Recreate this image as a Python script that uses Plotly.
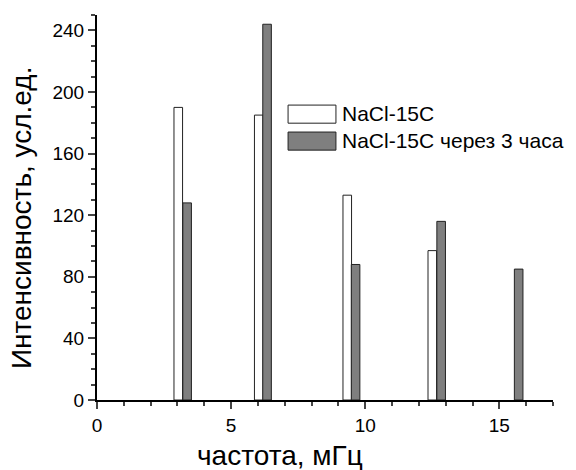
import plotly.graph_objects as go

# Data
series1_name = "NaCl-15C"
series1_x = [3.03, 6.03, 9.33, 12.5]
series1_y = [190, 185, 133, 97]
series1_color = "white"

series2_name = "NaCl-15C через 3 часа"
series2_x = [3.36, 6.34, 9.64, 12.83, 15.72]
series2_y = [128, 244, 88, 116, 85]
series2_color = "#7f7f7f"

x_title = "частота, мГц"
y_title = "Интенсивность, усл.ед."
x_ticks = [0, 5, 10, 15]
y_ticks = [0, 40, 80, 120, 160, 200, 240]

edge = "#222"
fig = go.Figure()
fig.add_trace(go.Bar(x=series1_x, y=series1_y, name=series1_name, width=0.32,
                     showlegend=False,
                     marker=dict(color=series1_color, line=dict(color=edge, width=1))))
fig.add_trace(go.Bar(x=series2_x, y=series2_y, name=series2_name, width=0.32,
                     showlegend=False,
                     marker=dict(color=series2_color, line=dict(color=edge, width=1))))

font_family = "Liberation Sans, Arial, sans-serif"

# Legend drawn with wide swatches like the original
shapes = []
annotations = []
legend_rows = [(series1_name, series1_color, 0.766, 0.719, 0.743),
               (series2_name, series2_color, 0.696, 0.649, 0.673)]
for name, col, y1, y0, yt in legend_rows:
    shapes.append(dict(type="rect", xref="paper", yref="paper", x0=0.419, x1=0.524,
                       y0=y0, y1=y1, fillcolor=col, line=dict(color=edge, width=1)))
    annotations.append(dict(text=name, xref="paper", yref="paper", x=0.533, y=yt,
                            xanchor="left", yanchor="middle", showarrow=False,
                            font=dict(size=21)))

annotations.append(dict(text=x_title, xref="paper", yref="paper", x=0.401, y=-0.143,
                        xanchor="center", yanchor="middle", showarrow=False,
                        font=dict(size=28)))
annotations.append(dict(text=y_title, xref="paper", yref="paper", x=-0.164, y=0.473,
                        xanchor="center", yanchor="middle", showarrow=False, textangle=-90,
                        font=dict(size=28)))

fig.update_layout(
    barmode="overlay",
    width=576, height=470,
    margin=dict(l=97, r=23, t=15, b=70),
    plot_bgcolor="white", paper_bgcolor="white",
    font=dict(family=font_family, color="black"),
    showlegend=False,
    shapes=shapes,
    annotations=annotations,
    xaxis=dict(range=[0, 17], tickvals=x_ticks, ticks="outside", ticklen=7,
               tickwidth=1.5, showline=True, linecolor="black", linewidth=2,
               showgrid=False, zeroline=False, tickfont=dict(size=19),
               minor=dict(dtick=1, ticks="outside", ticklen=4, tickwidth=1.5, showgrid=False)),
    yaxis=dict(range=[0, 250], tickvals=y_ticks, ticks="outside",
               ticklen=7, tickwidth=1.5, showline=True, linecolor="black", linewidth=2,
               showgrid=False, zeroline=False, tickfont=dict(size=19),
               minor=dict(dtick=10, ticks="outside", ticklen=4, tickwidth=1.5, showgrid=False)),
)

fig.write_html("out.html")
